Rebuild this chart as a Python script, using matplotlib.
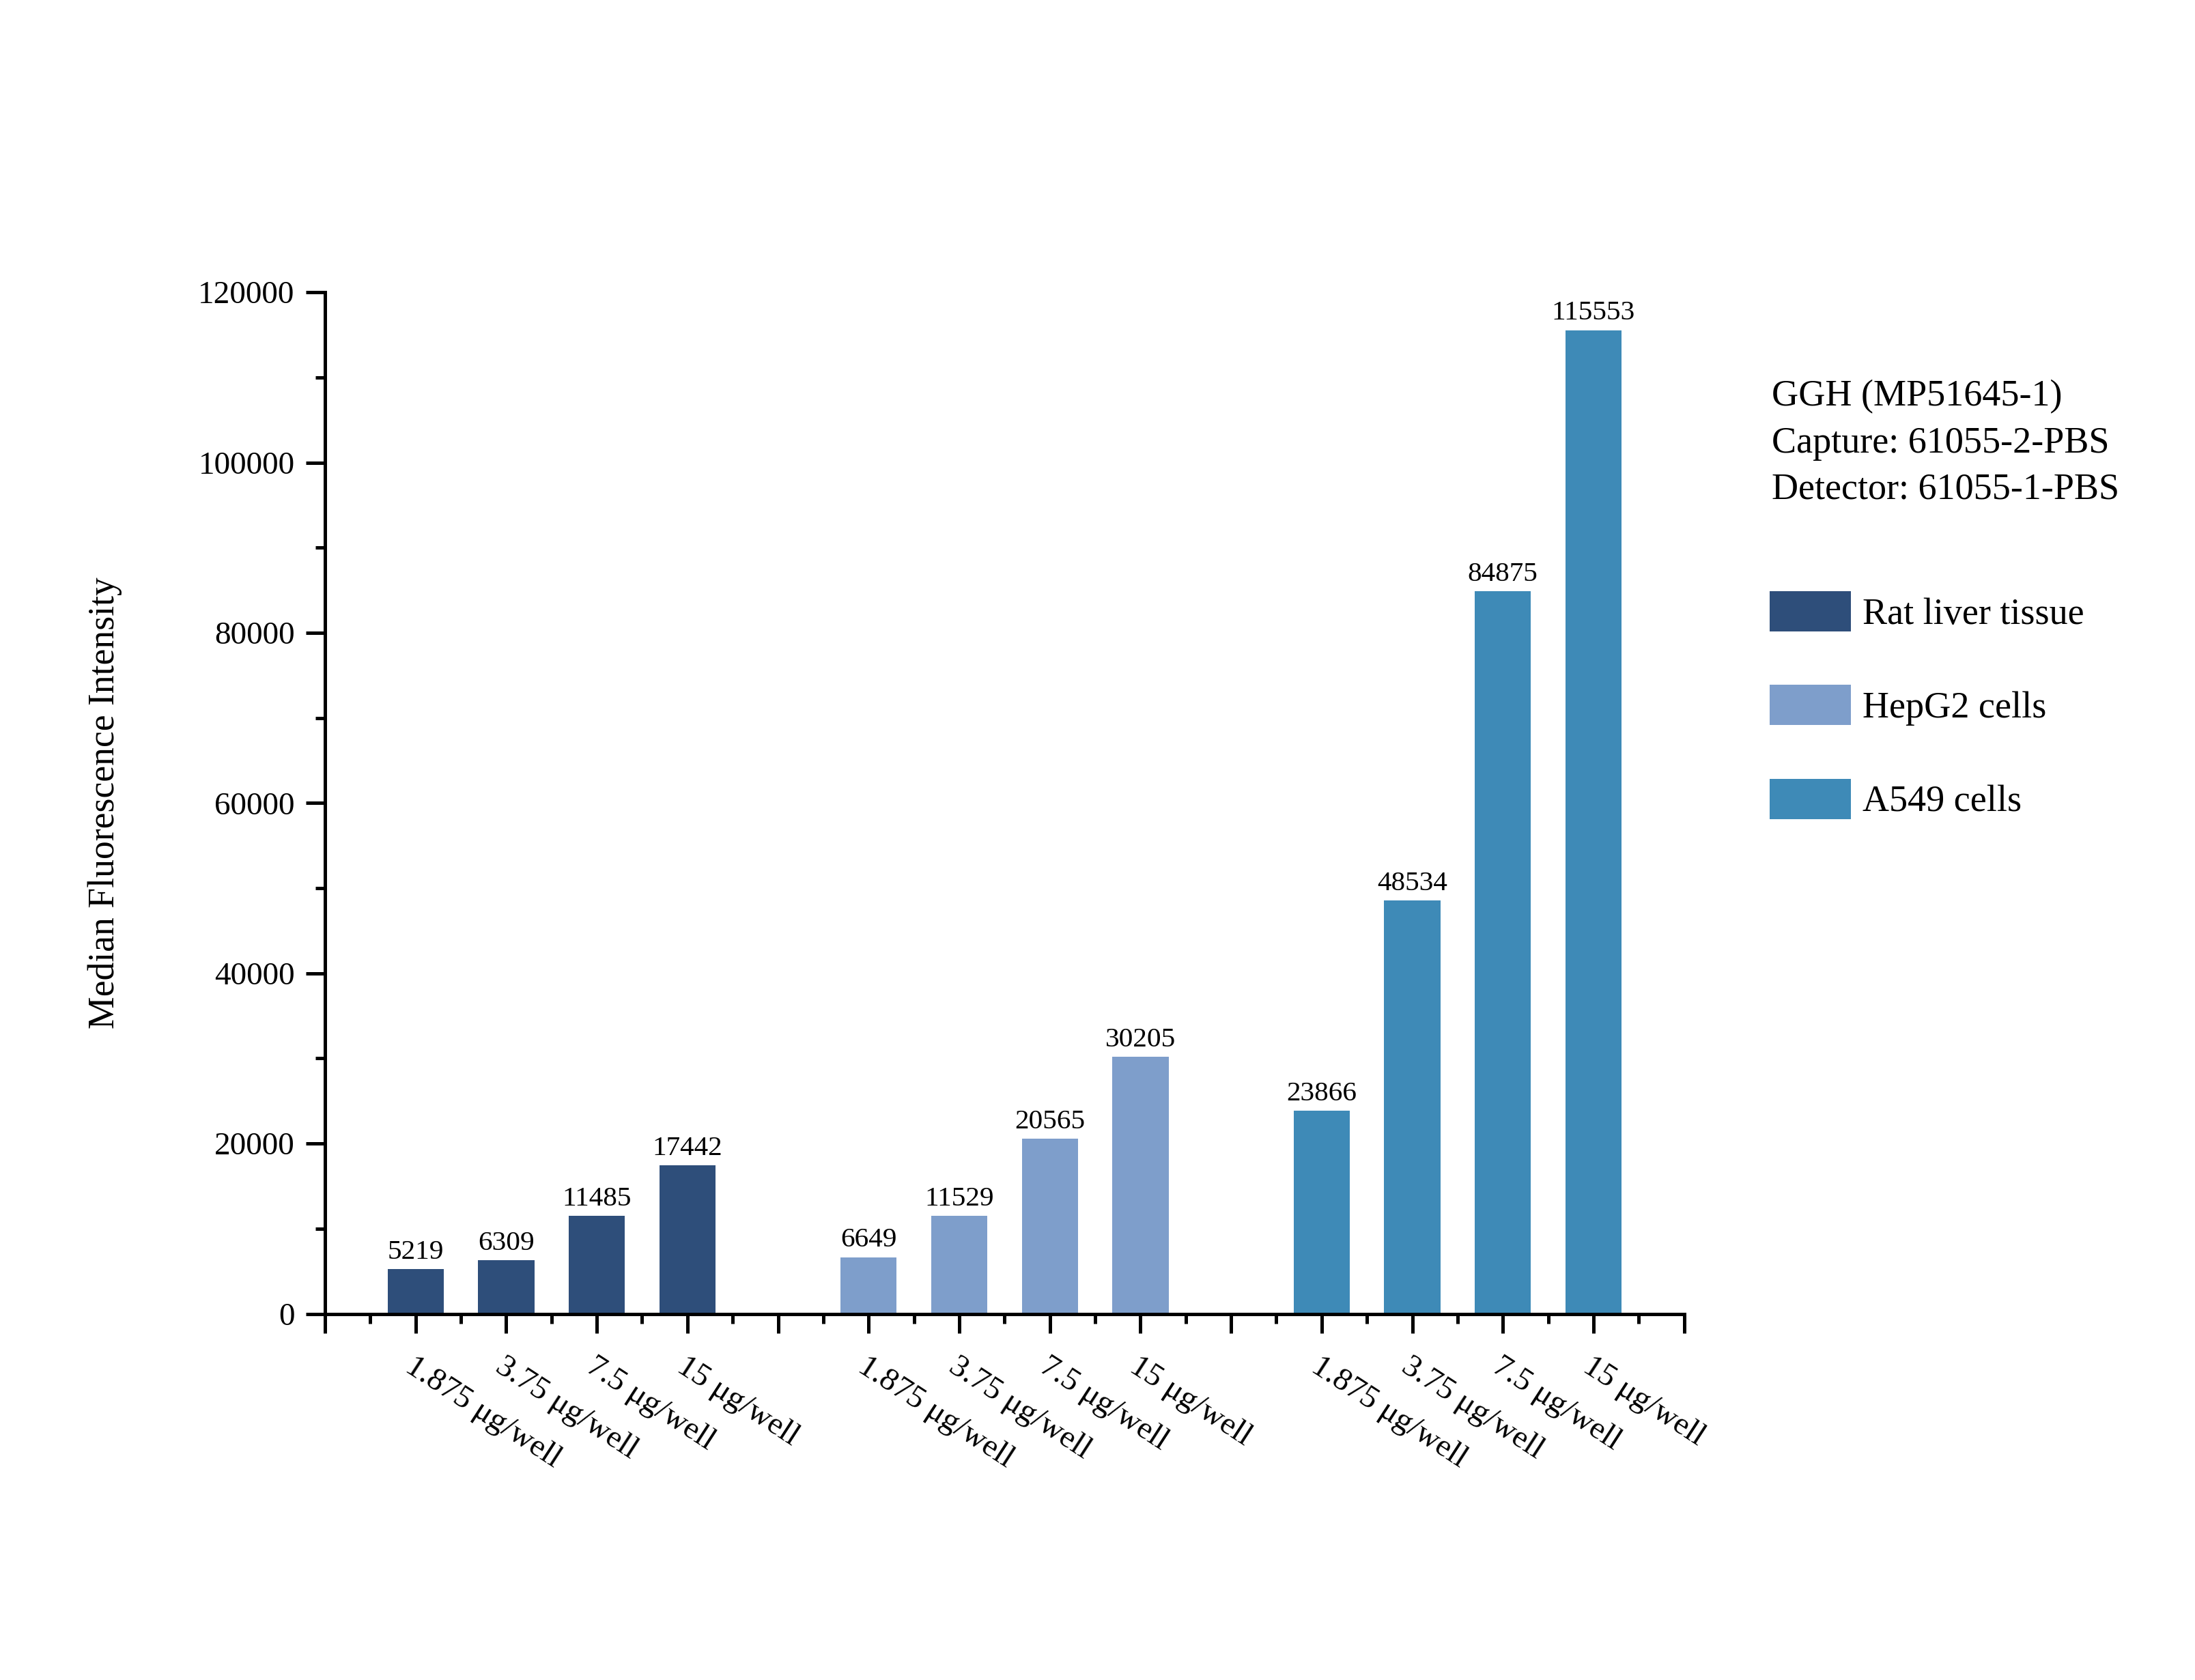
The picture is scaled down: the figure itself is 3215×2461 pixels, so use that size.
import matplotlib.pyplot as plt
import matplotlib.transforms as mtransforms
from matplotlib.ticker import MultipleLocator, FixedLocator

plt.rcParams['font.family'] = ['Liberation Serif', 'DejaVu Serif']

doses = ['1.875 μg/well', '3.75 μg/well', '7.5 μg/well', '15 μg/well']
groups = ['Rat liver tissue', 'HepG2 cells', 'A549 cells']
rat_liver = [5219, 6309, 11485, 17442]
hepg2 = [6649, 11529, 20565, 30205]
a549 = [23866, 48534, 84875, 115553]
colors = ['#2E4E7A', '#7E9ECB', '#3E8AB7']
info_lines = ['GGH (MP51645-1)', 'Capture: 61055-2-PBS', 'Detector: 61055-1-PBS']

fig = plt.figure(figsize=(16.08, 12.305), dpi=200)
ax = fig.add_axes([0.148, 0.218, 0.619, 0.608])

series = [rat_liver, hepg2, a549]
positions = []
labels = []
for g, vals in enumerate(series):
    xs = [g * 5 + 1 + i for i in range(len(vals))]
    ax.bar(xs, vals, width=0.62, color=colors[g], label=groups[g])
    for x, v in zip(xs, vals):
        ax.text(x, v + 500, str(v), ha='center', va='bottom', fontsize=14.8)
    positions += xs
    labels += doses

ax.set_xlim(0, 15)
ax.set_ylim(0, 120000)
ax.yaxis.set_major_locator(MultipleLocator(20000))
ax.yaxis.set_minor_locator(MultipleLocator(10000))
ax.xaxis.set_major_locator(FixedLocator(list(range(16))))
ax.xaxis.set_minor_locator(FixedLocator([i + 0.5 for i in range(15)]))
xt = ['' for _ in range(16)]
for p, l in zip(positions, labels):
    xt[p] = l
ax.set_xticklabels(xt, rotation=-33, ha='left', va='top', rotation_mode='anchor', fontsize=17)
offset = mtransforms.ScaledTranslation(-0.13, 0, fig.dpi_scale_trans)
for lab in ax.get_xticklabels():
    lab.set_transform(lab.get_transform() + offset)

for s in ['top', 'right']:
    ax.spines[s].set_visible(False)
for s in ['left', 'bottom']:
    ax.spines[s].set_linewidth(1.8)
ax.tick_params(axis='both', which='major', length=10, width=1.8, direction='out')
ax.tick_params(axis='y', which='major', labelsize=17, pad=6)
ax.tick_params(axis='both', which='minor', length=5, width=1.8, direction='out')
ax.tick_params(axis='x', which='major', pad=10)

ax.set_ylabel('Median Fluorescence Intensity', fontsize=19.3, labelpad=40)

fig.text(0.807, 0.774, '\n'.join(info_lines), ha='left', va='top', fontsize=19.5, linespacing=1.45)

ax.legend(loc='upper left', bbox_to_anchor=(0.806, 0.648), bbox_transform=fig.transFigure,
          frameon=False, fontsize=19.5, handlelength=2.2, handleheight=1.3,
          handletextpad=0.3, labelspacing=1.43, borderpad=0, borderaxespad=0)

fig.savefig('out.png', dpi=200)
